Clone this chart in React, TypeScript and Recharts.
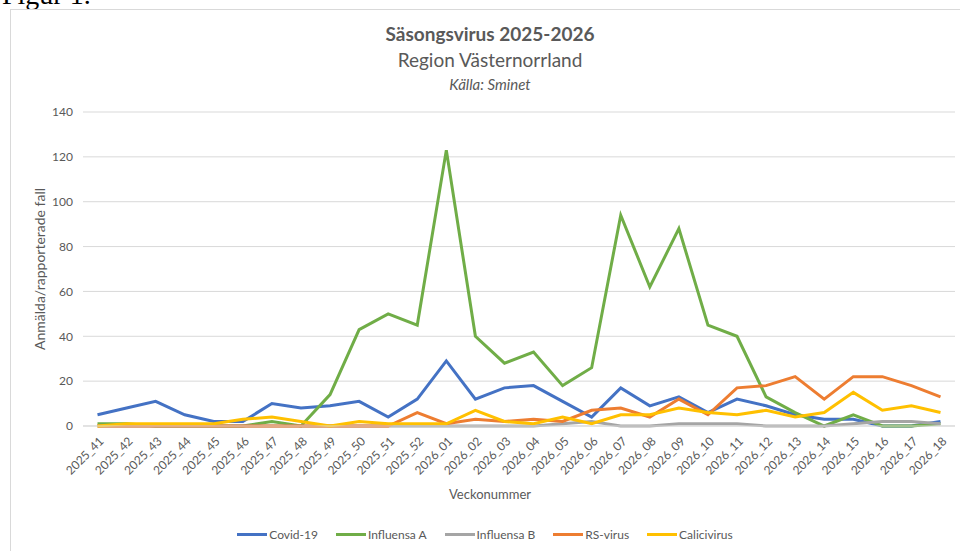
import React from 'react';
import { LineChart, Line, XAxis, YAxis, CartesianGrid, Legend } from 'recharts';

const weeks = [
    '2025_41', '2025_42', '2025_43', '2025_44', '2025_45', '2025_46', '2025_47', '2025_48', '2025_49', '2025_50',
    '2025_51', '2025_52', '2026_01', '2026_02', '2026_03', '2026_04', '2026_05', '2026_06', '2026_07', '2026_08',
    '2026_09', '2026_10', '2026_11', '2026_12', '2026_13', '2026_14', '2026_15', '2026_16', '2026_17', '2026_18',
];

const covid = [5, 8, 11, 5, 2, 2, 10, 8, 9, 11, 4, 12, 29, 12, 17, 18, 11, 4, 17, 9, 13, 6, 12, 9, 5, 3, 3, 0, 0, 2];
const influensaA = [1, 1, 0, 0, 0, 0, 2, 0, 14, 43, 50, 45, 123, 40, 28, 33, 18, 26, 94, 62, 88, 45, 40, 13, 6, 0, 5, 0, 0, 1];
const influensaB = [0, 0, 0, 0, 0, 0, 0, 0, 0, 0, 0, 0, 0, 0, 0, 0, 1, 2, 0, 0, 1, 1, 1, 0, 0, 0, 1, 2, 2, 1];
const rsVirus = [0, 0, 0, 0, 0, 0, 0, 0, 0, 0, 0, 6, 1, 3, 2, 3, 2, 7, 8, 4, 12, 5, 17, 18, 22, 12, 22, 22, 18, 13];
const calici = [0, 1, 1, 1, 1, 3, 4, 2, 0, 2, 1, 1, 1, 7, 2, 1, 4, 1, 5, 5, 8, 6, 5, 7, 4, 6, 15, 7, 9, 6];

const yTicks = [0, 20, 40, 60, 80, 100, 120, 140];

const series = [
    { key: 'covid', name: 'Covid-19', color: '#4472C4', values: covid },
    { key: 'infA', name: 'Influensa A', color: '#70AD47', values: influensaA },
    { key: 'infB', name: 'Influensa B', color: '#A5A5A5', values: influensaB },
    { key: 'rs', name: 'RS-virus', color: '#ED7D31', values: rsVirus },
    { key: 'calici', name: 'Calicivirus', color: '#FFC000', values: calici },
];

const data = weeks.map((week, i) => {
    const row: Record<string, string | number> = { week };
    series.forEach((s) => { row[s.key] = s.values[i]; });
    return row;
});

const FONT = 'Lato, "Open Sans", sans-serif';
const TEXT = '#595959';

const WeekTick = ({ x, y, payload }: any) => (
    <g transform={`translate(${x + 4},${y + 5})`}>
        <text x={0} y={0} dy="0.35em" textAnchor="end" transform="rotate(-45)" fill={TEXT} fontSize={12} fontFamily={FONT}>
            {payload.value}
        </text>
    </g>
);

const LegendContent = () => (
    <div style={{ display: 'flex', justifyContent: 'center', alignItems: 'center', height: 20, fontFamily: FONT, fontSize: 12, color: TEXT }}>
        {series.map((s) => (
            <div key={s.key} style={{ display: 'flex', alignItems: 'center', marginRight: 18 }}>
                <span style={{ display: 'inline-block', width: 30, height: 3, background: s.color, marginRight: 2 }} />
                <span>{s.name}</span>
            </div>
        ))}
    </div>
);

export default function App() {
    return (
        <div style={{ position: 'absolute', left: 0, top: 0, width: 960, height: 551, overflow: 'hidden', background: '#fff' }}>
            <div style={{ position: 'absolute', left: 2, top: -21, fontFamily: '"Liberation Serif", serif', fontSize: 28, lineHeight: '32px' }}>
                Figur 1.
            </div>
            <div style={{ position: 'absolute', left: 10, top: 9, width: 980, height: 600, borderLeft: '1px solid #d9d9d9', borderTop: '1px solid #d9d9d9' }} />
            <div style={{ position: 'absolute', left: 0, top: 23, width: 980, textAlign: 'center', fontFamily: FONT, color: TEXT }}>
                <div style={{ fontSize: 19, fontWeight: 700, lineHeight: '22px' }}>Säsongsvirus 2025-2026</div>
                <div style={{ fontSize: 19, lineHeight: '22px', marginTop: 4 }}>Region Västernorrland</div>
                <div style={{ fontSize: 15, fontStyle: 'italic', lineHeight: '18px', marginTop: 4 }}>Källa: Sminet</div>
            </div>
            <div style={{ position: 'absolute', left: 0, top: 486, width: 980, textAlign: 'center', fontFamily: FONT, fontSize: 13, color: TEXT }}>
                Veckonummer
            </div>
            <div style={{ position: 'absolute', left: 0, top: 0 }}>
                <LineChart width={960} height={551} data={data} margin={{ top: 112, right: 5, left: 33, bottom: 7 }}>
                    <CartesianGrid vertical={false} stroke="#d9d9d9" />
                    <XAxis
                        dataKey="week"
                        interval={0}
                        tickLine={false}
                        axisLine={{ stroke: '#d9d9d9' }}
                        tick={<WeekTick />}
                        height={98}
                        padding={{ left: 14.5, right: 14.5 }}
                    />
                    <YAxis
                        domain={[0, 140]}
                        ticks={yTicks}
                        width={50}
                        axisLine={false}
                        tickLine={false}
                        tickSize={0}
                        tickMargin={10}
                        tick={{ fill: TEXT, fontSize: 12, fontFamily: FONT }}
                        label={{
                            content: ({ viewBox }: any) => {
                                const cx = viewBox.x + 6;
                                const cy = viewBox.y + viewBox.height / 2;
                                return (
                                    <text x={cx} y={cy} transform={`rotate(-90, ${cx}, ${cy})`} textAnchor="middle" dominantBaseline="central" fill={TEXT} fontSize={14} fontFamily={FONT}>
                                        Anmälda/rapporterade fall
                                    </text>
                                );
                            },
                        }}
                    />
                    <Legend verticalAlign="bottom" height={20} content={<LegendContent />} />
                    {series.map((s) => (
                        <Line
                            key={s.key}
                            type="linear"
                            dataKey={s.key}
                            name={s.name}
                            stroke={s.color}
                            strokeWidth={3}
                            dot={false}
                            isAnimationActive={false}
                        />
                    ))}
                </LineChart>
            </div>
        </div>
    );
}
